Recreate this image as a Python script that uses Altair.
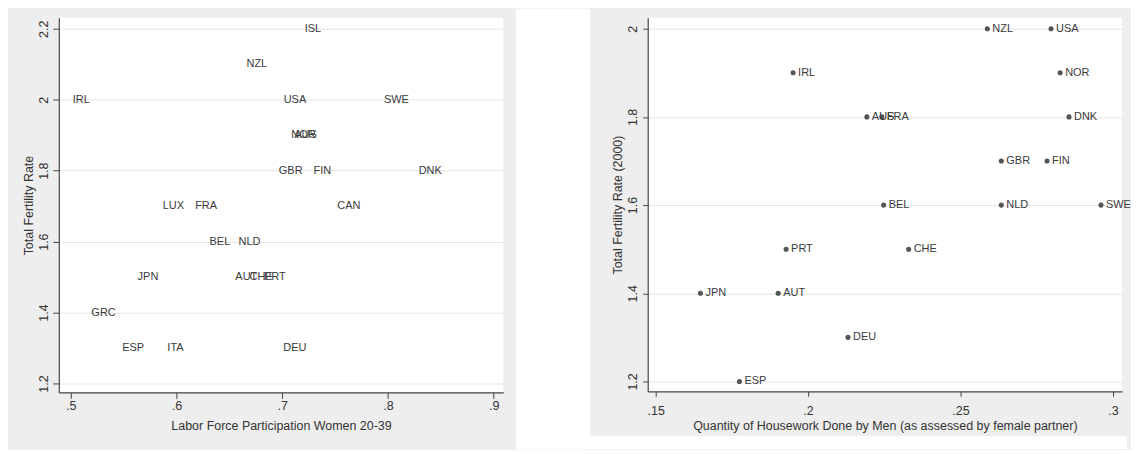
import altair as alt
import pandas as pd

# Left panel: labour force participation vs fertility
countries_l = ["ISL", "NZL", "IRL", "USA", "SWE", "NOR", "AUS", "GBR", "FIN", "DNK",
               "LUX", "FRA", "CAN", "BEL", "NLD", "JPN", "AUT", "CHE", "PRT", "GRC",
               "ESP", "ITA", "DEU"]
lfp = [0.729, 0.676, 0.510, 0.712, 0.808, 0.720, 0.722, 0.708, 0.738, 0.840,
       0.597, 0.628, 0.763, 0.641, 0.669, 0.573, 0.666, 0.680, 0.693, 0.531,
       0.559, 0.599, 0.712]
tfr_l = [2.2, 2.1, 2.0, 2.0, 2.0, 1.9, 1.9, 1.8, 1.8, 1.8,
         1.7, 1.7, 1.7, 1.6, 1.6, 1.5, 1.5, 1.5, 1.5, 1.4,
         1.3, 1.3, 1.3]

# Right panel: housework done by men vs fertility (2000)
countries_r = ["NZL", "USA", "IRL", "NOR", "AUS", "FRA", "DNK", "GBR", "FIN", "BEL",
               "NLD", "SWE", "PRT", "CHE", "JPN", "AUT", "DEU", "ESP"]
housework = [0.2588, 0.2797, 0.1951, 0.2827, 0.2193, 0.2242, 0.2856, 0.2634, 0.2784, 0.2248,
             0.2634, 0.2961, 0.1928, 0.2330, 0.1647, 0.1902, 0.2131, 0.1775]
tfr_r = [2.0, 2.0, 1.9, 1.9, 1.8, 1.8, 1.8, 1.7, 1.7, 1.6,
         1.6, 1.6, 1.5, 1.5, 1.4, 1.4, 1.3, 1.2]

x_ticks_l = [0.5, 0.6, 0.7, 0.8, 0.9]
y_ticks_l = [1.2, 1.4, 1.6, 1.8, 2.0, 2.2]
x_ticks_r = [0.15, 0.2, 0.25, 0.3]
y_ticks_r = [1.2, 1.4, 1.6, 1.8, 2.0]

df_l = pd.DataFrame({"country": countries_l, "lfp": lfp, "tfr": tfr_l})
df_r = pd.DataFrame({"country": countries_r, "hw": housework, "tfr": tfr_r})
one = pd.DataFrame({"k": [0]})

FONT = "Liberation Sans"
TXT = "#3a3a3a"
GRAY_BG = "#eeeeee"

WL, HL = 446, 376
WR, HR = 476, 375

xl = alt.X("lfp:Q", scale=alt.Scale(domain=[0.4887, 0.909], nice=False, zero=False),
           axis=alt.Axis(title="Labor Force Participation Women 20-39", values=x_ticks_l,
                         labelExpr="substring(toString(datum.value), 1)", grid=False,
                         tickSize=6, labelPadding=1, titlePadding=8))
yl = alt.Y("tfr:Q", scale=alt.Scale(domain=[1.175, 2.231], nice=False, zero=False),
           axis=alt.Axis(title="Total Fertility Rate", values=y_ticks_l,
                         labelExpr="toString(datum.value)", grid=True,
                         labelAngle=270, labelAlign="center", labelBaseline="bottom",
                         tickSize=6, labelPadding=2, titlePadding=2))

left_bound = alt.Chart(one).mark_rect(opacity=0).encode(
    x=alt.value(-51), x2=alt.value(0), y=alt.value(-9), y2=alt.value(433))

left_text = alt.Chart(df_l).mark_text(font=FONT, fontSize=11, color=TXT,
                                       align="center", baseline="middle").encode(
    x=xl, y=yl, text="country:N")

left = alt.layer(left_bound, left_text).properties(width=WL, height=HL)

xr = alt.X("hw:Q", scale=alt.Scale(domain=[0.1474, 0.303], nice=False, zero=False),
           axis=alt.Axis(title="Quantity of Housework Done by Men (as assessed by female partner)",
                         values=x_ticks_r, labelExpr="substring(toString(datum.value), 1)",
                         grid=False, tickSize=5, labelPadding=8, titlePadding=3))
yr = alt.Y("tfr:Q", scale=alt.Scale(domain=[1.1774, 2.0249], nice=False, zero=False),
           axis=alt.Axis(title="Total Fertility Rate (2000)", values=y_ticks_r,
                         labelExpr="toString(datum.value)", grid=True,
                         labelAngle=270, labelAlign="center", labelBaseline="bottom",
                         tickSize=5, labelPadding=3, titlePadding=2))

gap = alt.Chart(one).mark_rect(color="white").encode(
    x=alt.value(-132), x2=alt.value(-58), y=alt.value(-9), y2=alt.value(433))
bottom_strip = alt.Chart(one).mark_rect(color="white").encode(
    x=alt.value(-132), x2=alt.value(WR + 5), y=alt.value(420), y2=alt.value(433))

right_pts = alt.Chart(df_r).mark_circle(size=26, color="#555555", opacity=1).encode(x=xr, y=yr)
right_text = alt.Chart(df_r).mark_text(font=FONT, fontSize=11, color=TXT, align="left",
                                        baseline="middle", dx=5).encode(
    x=xr, y=yr, text="country:N")

right = alt.layer(gap, bottom_strip, right_pts, right_text).properties(width=WR, height=HR)

chart = alt.hconcat(left, right, spacing=13).properties(
    background=GRAY_BG,
    padding={"left": 0, "top": 0, "right": 0, "bottom": 0},
).configure_view(fill="white", stroke=None).configure_axis(
    labelFont=FONT, titleFont=FONT, labelFontSize=12.5, titleFontSize=12.5,
    titleFontWeight="normal", labelColor="#333333", titleColor="#333333",
    domainColor="#444444", tickColor="#444444", gridColor="#e4e4e4",
    domainWidth=1.2, tickWidth=1)

chart.save("out.html", embed_options={"renderer": "svg", "actions": False})
